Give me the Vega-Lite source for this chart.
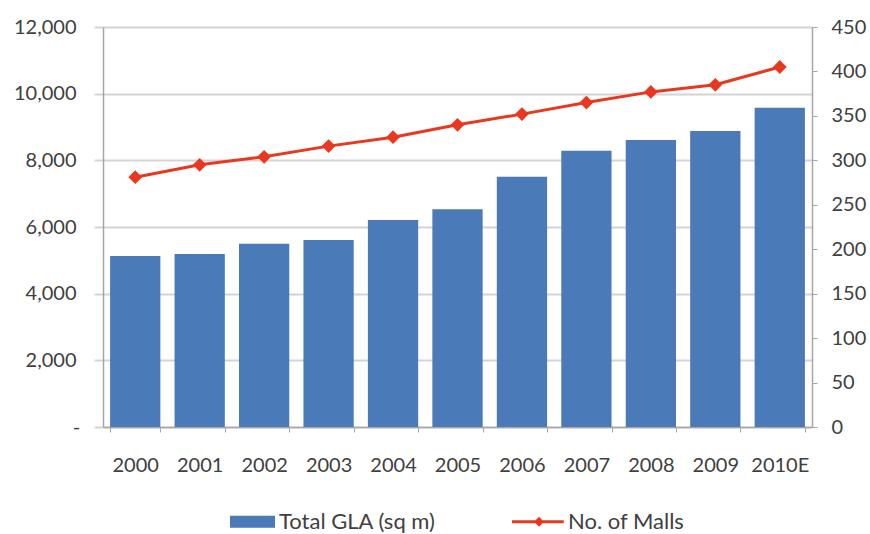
{
  "$schema": "https://vega.github.io/schema/vega-lite/v6.json",
  "width": 709,
  "height": 400,
  "autosize": {"type": "none"},
  "padding": {"left": 103, "top": 27, "right": 58, "bottom": 107},
  "background": "white",
  "config": {
    "view": {"stroke": null},
    "font": "Lato",
    "axis": {
      "labelFont": "Lato",
      "labelFontSize": 20,
      "labelColor": "#404040",
      "domainColor": "#a6a6a6",
      "domainWidth": 1.5,
      "tickColor": "#a6a6a6",
      "gridColor": "#d4d4d4",
      "gridWidth": 2,
      "title": null
    },
    "legend": {"labelFont": "Lato", "labelFontSize": 22, "labelColor": "#404040"}
  },
  "data": {
    "values": [
      {"year": "2000", "gla": 5130, "malls": 281},
      {"year": "2001", "gla": 5190, "malls": 295},
      {"year": "2002", "gla": 5500, "malls": 304},
      {"year": "2003", "gla": 5610, "malls": 316},
      {"year": "2004", "gla": 6210, "malls": 326},
      {"year": "2005", "gla": 6530, "malls": 340},
      {"year": "2006", "gla": 7510, "malls": 352},
      {"year": "2007", "gla": 8290, "malls": 365},
      {"year": "2008", "gla": 8610, "malls": 377},
      {"year": "2009", "gla": 8880, "malls": 385},
      {"year": "2010E", "gla": 9580, "malls": 405}
    ]
  },
  "encoding": {
    "x": {
      "field": "year",
      "type": "ordinal",
      "sort": null,
      "scale": {"paddingInner": 0.22, "paddingOuter": 0.11},
      "axis": {
        "labelAngle": 0,
        "tickBand": "extent",
        "tickSize": 5,
        "labelPadding": 23,
        "domainColor": "#a6a6a6"
      }
    }
  },
  "layer": [
    {
      "mark": {"type": "bar"},
      "encoding": {
        "y": {
          "field": "gla",
          "type": "quantitative",
          "scale": {"domain": [0, 12000], "nice": false},
          "axis": {
            "values": [0, 2000, 4000, 6000, 8000, 10000, 12000],
            "labelExpr": "datum.value == 0 ? '-' : format(datum.value, ',')",
            "tickSize": 9,
            "tickColor": "#d4d4d4",
            "tickWidth": 2,
            "labelPadding": 18,
            "grid": true,
            "labelAlign": {"expr": "datum.value == 0 ? 'center' : 'right'"},
            "labelOffset": 0,
            "encode": {
              "labels": {
                "update": {"x": {"signal": "datum.value == 0 ? -43 : -27"}}
              }
            }
          }
        },
        "color": {
          "datum": "Total GLA (sq m)",
          "type": "nominal",
          "scale": {
            "domain": ["Total GLA (sq m)", "No. of Malls"],
            "range": ["#4a7ab7", "#e8381f"]
          },
          "legend": {
            "orient": "none",
            "direction": "horizontal",
            "legendX": 127,
            "legendY": 472,
            "title": null,
            "symbolSize": 2025,
            "columnPadding": 76,
            "labelOffset": 4,
            "encode": {
              "symbols": {
                "update": {
                  "shape": {"signal": "datum.value === 'No. of Malls' ? 'M-1,-0.07H1.3V0.07H-1Z M-0.02,0L0.2,-0.22L0.42,0L0.2,0.22Z' : 'M-1,-0.27H1V0.27H-1Z'"},
                  "fill": {"scale": "color", "field": "value"},
                  "stroke": {"value": "transparent"},
                  "strokeWidth": {"value": 0},
                  "opacity": {"value": 1},
                  "fillOpacity": {"value": 1}
                }
              },
              "labels": {
                "update": {"dx": {"signal": "datum.value === 'No. of Malls' ? 7 : 0"}}
              }
            }
          }
        }
      }
    },
    {
      "mark": {
        "type": "line",
        "strokeWidth": 3,
        "point": {"shape": "diamond", "size": 190, "filled": true, "opacity": 1}
      },
      "encoding": {
        "y": {
          "field": "malls",
          "type": "quantitative",
          "scale": {"domain": [0, 450], "nice": false},
          "axis": {
            "orient": "right",
            "values": [0, 50, 100, 150, 200, 250, 300, 350, 400, 450],
            "grid": false,
            "tickSize": 5,
            "labelPadding": 14
          }
        },
        "color": {"datum": "No. of Malls", "type": "nominal"}
      }
    }
  ],
  "resolve": {"scale": {"y": "independent"}}
}
